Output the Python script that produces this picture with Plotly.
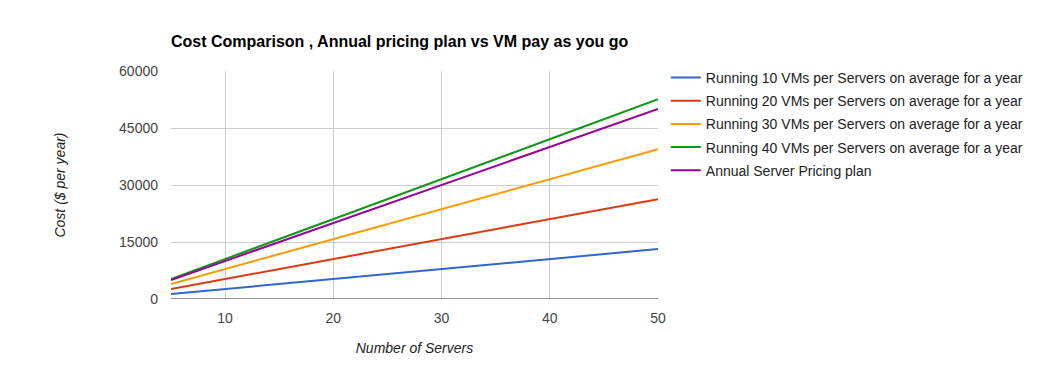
import plotly.graph_objects as go

servers = [5, 10, 15, 20, 25, 30, 35, 40, 45, 50]
vm10 = [1314, 2628, 3942, 5256, 6570, 7884, 9198, 10512, 11826, 13140]
vm20 = [2628, 5256, 7884, 10512, 13140, 15768, 18396, 21024, 23652, 26280]
vm30 = [3942, 7884, 11826, 15768, 19710, 23652, 27594, 31536, 35478, 39420]
vm40 = [5256, 10512, 15768, 21024, 26280, 31536, 36792, 42048, 47304, 52560]
annual = [5000, 10000, 15000, 20000, 25000, 30000, 35000, 40000, 45000, 50000]

names = [
    "Running 10 VMs per Servers on average for a year",
    "Running 20 VMs per Servers on average for a year",
    "Running 30 VMs per Servers on average for a year",
    "Running 40 VMs per Servers on average for a year",
    "Annual Server Pricing plan",
]
series = [vm10, vm20, vm30, vm40, annual]
colors = ["#3366cc", "#dc3912", "#ff9900", "#109618", "#990099"]

fig = go.Figure()
for i, (n, s, c) in enumerate(zip(names, series, colors)):
    fig.add_trace(go.Scatter(x=servers, y=s, mode="lines", name=n,
                             legendgroup=str(i),
                             line=dict(color=c, width=2)))

W, H = 1041, 363
font = "Arial, Liberation Sans, sans-serif"
fig.update_layout(
    width=W, height=H,
    margin=dict(l=163, r=391, t=63, b=72),
    paper_bgcolor="white", plot_bgcolor="white",
    font=dict(family=font, size=14, color="#444444"),
    title=dict(text="<b>Cost Comparison , Annual pricing plan vs VM pay as you go</b>",
               x=163/W, xanchor="left", y=1-33/H, yanchor="middle",
               font=dict(size=16, color="#000000")),
    xaxis=dict(range=[5, 50], tickvals=[10, 20, 30, 40, 50],
               showgrid=True, gridcolor="#cccccc", gridwidth=1,
               zeroline=False, showline=False, ticks="",
               ticklabelstandoff=9,
               tickfont=dict(size=14, color="#444444"),
               title=dict(text="<i>Number of Servers</i>",
                          font=dict(size=14, color="#222222"), standoff=18)),
    yaxis=dict(range=[0, 60000], tickvals=[0, 15000, 30000, 45000, 60000],
               showgrid=True, gridcolor="#cccccc", gridwidth=1,
               zeroline=False, showline=False, ticks="",
               tickformat="d", ticklabelstandoff=12,
               tickfont=dict(size=14, color="#444444"),
               title=dict(text="<i>Cost ($ per year)</i>",
                          font=dict(size=14, color="#222222"), standoff=50)),
    legend=dict(x=1.016, xanchor="left", y=1.04, yanchor="top",
                font=dict(size=14, color="#222222"),
                tracegroupgap=2, itemwidth=30, bgcolor="rgba(0,0,0,0)"),
    showlegend=True,
)
fig.add_shape(type="line", xref="paper", yref="y", x0=0, x1=1, y0=0, y1=0,
              line=dict(color="#333333", width=1))

fig.write_html("out.html")
